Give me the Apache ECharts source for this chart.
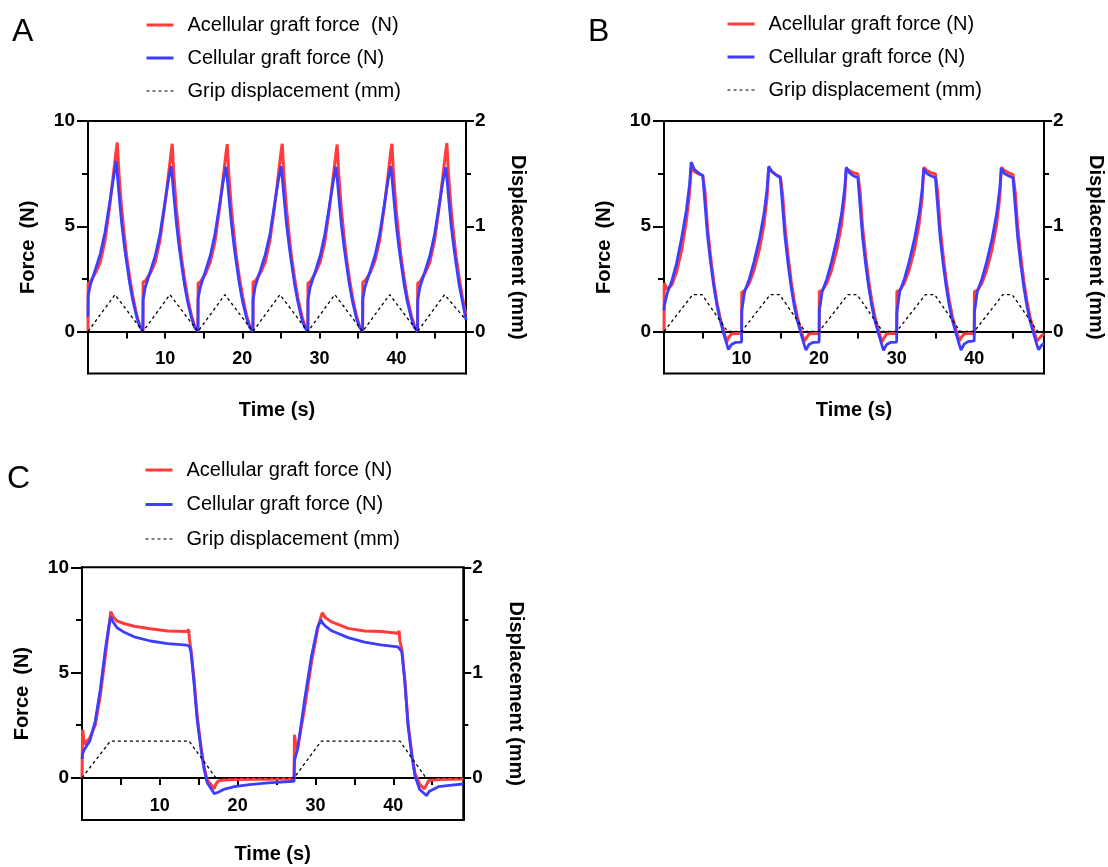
<!DOCTYPE html>
<html><head><meta charset="utf-8">
<script src="https://cdn.jsdelivr.net/npm/echarts@6/dist/echarts.min.js"></script>
<style>html,body{margin:0;padding:0;background:#fff}#chart{width:1108px;height:867px}</style>
</head><body><div id="chart"></div>
<script>
// ---------- Panel A ----------
const aTime = [
0, 0.02, 0.3, 1.0, 1.6, 2.2, 2.8, 3.3, 3.65, 3.8, 4.0, 4.35, 4.7, 5.0, 5.4, 5.8, 6.3, 6.7,
7.12, 7.14, 7.42, 8.12, 8.72, 9.32, 9.92, 10.42, 10.77, 10.92, 11.12, 11.47, 11.82, 12.12, 12.52, 12.92, 13.42, 13.82,
14.25, 14.27, 14.55, 15.25, 15.85, 16.45, 17.05, 17.55, 17.9, 18.05, 18.25, 18.6, 18.95, 19.25, 19.65, 20.05, 20.55, 20.95,
21.38, 21.4, 21.68, 22.38, 22.98, 23.58, 24.18, 24.68, 25.03, 25.18, 25.38, 25.73, 26.08, 26.38, 26.78, 27.18, 27.68, 28.08,
28.5, 28.52, 28.8, 29.5, 30.1, 30.7, 31.3, 31.8, 32.15, 32.3, 32.5, 32.85, 33.2, 33.5, 33.9, 34.3, 34.8, 35.2,
35.6, 35.62, 35.9, 36.6, 37.2, 37.8, 38.4, 38.9, 39.25, 39.4, 39.6, 39.95, 40.3, 40.6, 41.0, 41.4, 41.9, 42.3,
42.72, 42.74, 43.02, 43.72, 44.32, 44.92, 45.52, 46.02, 46.37, 46.52, 46.72, 47.07, 47.42, 47.72, 48.12, 48.52, 49.0
];
const aAcellular = [
0, 2.3, 2.35, 2.8, 3.3, 4.3, 5.9, 7.5, 8.6, 8.98, 7.6, 5.9, 4.6, 3.6, 2.6, 1.7, 0.8, 0.3,
0, 2.35, 2.4, 2.8, 3.3, 4.3, 5.9, 7.4, 8.5, 8.92, 7.5, 5.8, 4.5, 3.5, 2.5, 1.6, 0.75, 0.25,
0, 2.3, 2.35, 2.75, 3.3, 4.25, 5.85, 7.4, 8.5, 8.9, 7.5, 5.8, 4.5, 3.5, 2.5, 1.65, 0.78, 0.28,
0, 2.35, 2.4, 2.8, 3.3, 4.3, 5.9, 7.45, 8.55, 8.92, 7.55, 5.85, 4.55, 3.55, 2.55, 1.65, 0.8, 0.3,
0, 2.3, 2.35, 2.8, 3.3, 4.25, 5.85, 7.4, 8.5, 8.88, 7.5, 5.8, 4.5, 3.5, 2.5, 1.6, 0.75, 0.25,
0, 2.35, 2.4, 2.8, 3.35, 4.3, 5.9, 7.45, 8.55, 8.92, 7.5, 5.8, 4.5, 3.5, 2.5, 1.6, 0.78, 0.28,
0, 2.3, 2.35, 2.8, 3.3, 4.3, 5.9, 7.45, 8.55, 8.95, 7.55, 5.85, 4.55, 3.55, 2.55, 1.65, 0.78
];
const aCellular = [
0.7, 1.7, 2.2, 3.0, 3.7, 4.7, 6.1, 7.3, 8.1, 7.5, 6.6, 5.2, 4.1, 3.3, 2.3, 1.5, 0.7, 0.25,
0, 1.5, 2.1, 2.9, 3.6, 4.6, 6.0, 7.2, 7.85, 7.35, 6.5, 5.1, 4.0, 3.2, 2.2, 1.4, 0.65, 0.2,
0, 1.55, 2.1, 2.9, 3.6, 4.6, 6.0, 7.2, 7.82, 7.3, 6.45, 5.1, 4.0, 3.2, 2.2, 1.4, 0.65, 0.2,
0, 1.5, 2.15, 2.95, 3.65, 4.6, 6.05, 7.2, 7.85, 7.35, 6.5, 5.1, 4.05, 3.25, 2.25, 1.45, 0.65, 0.2,
0, 1.5, 2.1, 2.9, 3.6, 4.6, 6.0, 7.15, 7.82, 7.3, 6.45, 5.05, 4.0, 3.2, 2.2, 1.4, 0.62, 0.2,
0, 1.55, 2.1, 2.9, 3.6, 4.6, 6.0, 7.2, 7.85, 7.35, 6.5, 5.1, 4.0, 3.2, 2.2, 1.4, 0.65, 0.2,
0, 1.5, 2.1, 2.9, 3.6, 4.6, 6.0, 7.15, 7.8, 7.3, 6.45, 5.05, 4.0, 3.2, 2.2, 1.45, 0.55
];
const aDispTime = [0, 3.5, 7.12, 10.62, 14.25, 17.75, 21.38, 24.88, 28.5, 32.0, 35.6, 39.1, 42.72, 46.22, 49.0];
const aDisp = [0, 0.35, 0, 0.35, 0, 0.35, 0, 0.35, 0, 0.35, 0, 0.35, 0, 0.35, 0.11];

// ---------- Panel B ----------
const bTime = [
0, 0.03, 0.4, 1.0, 1.6, 2.3, 2.9, 3.3, 3.5, 3.9, 4.4, 5.0, 5.3, 5.6, 6.0, 6.4, 6.8, 7.2, 7.7, 8.1, 8.3, 8.7, 9.2,
10, 10.03, 10.4, 11.0, 11.6, 12.3, 12.9, 13.3, 13.5, 13.9, 14.4, 15.0, 15.3, 15.6, 16.0, 16.4, 16.8, 17.2, 17.7, 18.1, 18.3, 18.7, 19.2,
20, 20.03, 20.4, 21.0, 21.6, 22.3, 22.9, 23.3, 23.5, 23.9, 24.4, 25.0, 25.3, 25.6, 26.0, 26.4, 26.8, 27.2, 27.7, 28.1, 28.3, 28.7, 29.2,
30, 30.03, 30.4, 31.0, 31.6, 32.3, 32.9, 33.3, 33.5, 33.9, 34.4, 35.0, 35.3, 35.6, 36.0, 36.4, 36.8, 37.2, 37.7, 38.1, 38.3, 38.7, 39.2,
40, 40.03, 40.4, 41.0, 41.6, 42.3, 42.9, 43.3, 43.5, 43.9, 44.4, 45.0, 45.3, 45.6, 46.0, 46.4, 46.8, 47.2, 47.7, 48.1, 48.3, 48.7, 49.0
];
const bAcellular = [
0, 2.3, 2.0, 2.2, 2.8, 3.9, 5.3, 6.6, 7.75, 7.6, 7.5, 7.42, 6.6, 5.0, 3.6, 2.4, 1.45, 0.7, 0.0, -0.5, -0.3, -0.12, -0.1,
-0.1, 1.85, 1.95, 2.3, 2.9, 3.9, 5.1, 6.4, 7.75, 7.6, 7.45, 7.35, 6.5, 5.0, 3.6, 2.4, 1.45, 0.7, 0.0, -0.45, -0.35, -0.12, -0.1,
-0.1, 1.9, 1.95, 2.3, 2.9, 3.9, 5.1, 6.4, 7.7, 7.65, 7.55, 7.48, 6.6, 5.0, 3.6, 2.4, 1.45, 0.7, 0.0, -0.5, -0.35, -0.12, -0.1,
-0.1, 1.9, 1.95, 2.3, 2.9, 3.9, 5.1, 6.4, 7.8, 7.65, 7.55, 7.48, 6.6, 5.0, 3.6, 2.4, 1.45, 0.7, 0.0, -0.45, -0.3, -0.12, -0.1,
-0.1, 1.9, 1.95, 2.3, 2.9, 3.9, 5.1, 6.4, 7.8, 7.65, 7.55, 7.45, 6.6, 5.0, 3.6, 2.4, 1.45, 0.7, 0.0, -0.45, -0.48, -0.2, -0.1
];
const bCellular = [
1.0, 1.2, 1.8, 2.4, 3.2, 4.5, 5.8, 7.0, 8.05, 7.7, 7.55, 7.4, 6.0, 4.6, 3.3, 2.2, 1.3, 0.6, -0.1, -0.6, -0.86, -0.62, -0.52,
-0.5, 1.0, 1.9, 2.5, 3.3, 4.4, 5.6, 6.8, 7.85, 7.6, 7.45, 7.3, 5.9, 4.5, 3.2, 2.1, 1.2, 0.5, -0.15, -0.65, -0.88, -0.62, -0.52,
-0.5, 1.0, 1.9, 2.5, 3.3, 4.4, 5.6, 6.8, 7.8, 7.55, 7.4, 7.3, 5.9, 4.5, 3.2, 2.1, 1.2, 0.5, -0.15, -0.65, -0.9, -0.62, -0.52,
-0.5, 0.9, 1.9, 2.5, 3.3, 4.4, 5.6, 6.8, 7.75, 7.5, 7.4, 7.3, 5.9, 4.5, 3.2, 2.1, 1.2, 0.5, -0.15, -0.65, -0.88, -0.6, -0.48,
-0.45, 0.9, 1.9, 2.5, 3.3, 4.4, 5.6, 6.8, 7.75, 7.5, 7.4, 7.3, 5.9, 4.5, 3.2, 2.1, 1.2, 0.5, -0.15, -0.65, -0.87, -0.65, -0.56
];
const bDispTime = [0, 3.7, 4.9, 8.2, 10, 13.7, 14.9, 18.2, 20, 23.7, 24.9, 28.2, 30, 33.7, 34.9, 38.2, 40, 43.7, 44.9, 48.2, 49];
const bDisp = [0, 0.35, 0.35, 0, 0, 0.35, 0.35, 0, 0, 0.35, 0.35, 0, 0, 0.35, 0.35, 0, 0, 0.35, 0.35, 0, 0];

// ---------- Panel C ----------
const cTime = [
0, 0.08, 0.3, 1.0, 1.7, 2.35, 3.0, 3.4, 3.7, 4.0,
4.5, 5.5, 6.7, 8.8, 11.0, 13.5, 13.7, 13.8, 14.0, 14.4,
14.8, 15.3, 15.7, 16.1, 16.8, 17.0, 17.2, 17.5, 18.2, 19.6,
21.5, 23.9, 25.5, 27.25, 27.3, 27.5, 27.7, 28.6, 29.5, 30.3,
30.75, 30.9, 31.3, 32.0, 34.2, 36.3, 38.4, 40.6, 40.75, 40.85,
41.1, 41.5, 41.9, 42.4, 42.8, 43.4, 44.0, 44.3, 44.6, 45.8,
47.5, 49.0
];
const cAcellular = [
0, 2.3, 1.6, 1.9, 2.5, 3.9, 5.8, 7.0, 7.9, 7.65,
7.45, 7.32, 7.2, 7.08, 6.98, 6.95, 7.05, 6.6, 6.1, 4.7,
2.95, 1.45, 0.5, -0.1, -0.42, -0.52, -0.3, -0.15, -0.1, -0.08,
-0.07, -0.06, -0.05, -0.05, 2.05, 1.5, 1.4, 3.3, 5.5, 7.1,
7.7, 7.84, 7.6, 7.42, 7.1, 6.98, 6.95, 6.87, 6.98, 6.5,
6.1, 4.6, 2.6, 1.1, 0.2, -0.3, -0.52, -0.3, -0.12, -0.08,
-0.06, -0.05
];
const cCellular = [
0.9, 1.15, 1.35, 1.75, 2.7, 4.2, 6.1, 7.1, 7.65, 7.4,
7.13, 6.9, 6.7, 6.5, 6.38, 6.3, 6.28, 6.25, 6.0, 4.47,
2.75, 1.34, 0.4, -0.24, -0.63, -0.75, -0.84, -0.68, -0.55, -0.42,
-0.32, -0.24, -0.2, -0.16, 0.8, 1.1, 1.34, 3.7, 5.8, 7.2,
7.5, 7.35, 7.2, 7.0, 6.66, 6.45, 6.32, 6.22, 6.2, 6.15,
6.0, 4.5, 2.45, 1.0, 0.08, -0.55, -0.75, -0.84, -0.65, -0.42,
-0.34, -0.29
];
const cDispTime = [0, 3.65, 13.75, 17.2, 27.25, 30.75, 40.85, 44.2, 49];
const cDisp = [0, 0.35, 0.35, 0, 0, 0.35, 0.35, 0, 0];

// ---------- Ticks / labels ----------
const xTicks = [5, 10, 15, 20, 25, 30, 35, 40, 45];
const xLabels = [10, 20, 30, 40];
const forceMajor = [0, 5, 10];
const forceMinor = [2.5, 7.5];
const dispMajor = [0, 1, 2];
const dispMinor = [0.5, 1.5];
const letters = ['A', 'B', 'C'];
const acellNames = ['Acellular graft force  (N)', 'Acellular graft force (N)', 'Acellular graft force (N)'];
const cellName = 'Cellular graft force (N)';
const dispName = 'Grip displacement (mm)';

const FONT = "'Liberation Sans', Arial, Helvetica, sans-serif";
const RED = '#FF3B3B', BLUE = '#3D3DFF';

const panels = [
  {grid: {left: 88, top: 121, width: 378, height: 252.6}, legend: {left: 145, top: 14, gap: 11}, letterPos: [12, 16], xGap: 69,
   time: aTime, acell: aAcellular, cell: aCellular, dT: aDispTime, d: aDisp},
  {grid: {left: 664, top: 121, width: 380, height: 252.6}, legend: {left: 726, top: 13, gap: 11}, letterPos: [588, 16], xGap: 69,
   time: bTime, acell: bAcellular, cell: bCellular, dT: bDispTime, d: bDisp},
  {grid: {left: 82, top: 567.3, width: 381.3, height: 252.7}, legend: {left: 144, top: 459, gap: 12.5}, letterPos: [7, 463], xGap: 67,
   time: cTime, acell: cAcellular, cell: cCellular, dT: cDispTime, d: cDisp}
];

const tickStyle = {color: '#000', width: 2};
const labelStyle = {color: '#000', fontSize: 18, fontWeight: 'bold', fontFamily: FONT};
const yLabelStyle = {color: '#000', fontSize: 19, fontWeight: 'bold', fontFamily: FONT};
const nameStyle = {color: '#000', fontSize: 20, fontWeight: 'bold', fontFamily: FONT};

const option = {animation: false, backgroundColor: '#fff', grid: [], xAxis: [], yAxis: [], series: [], legend: [], graphic: []};

panels.forEach((p, i) => {
  const zeroOffset = -(p.grid.height * 2 / 12);
  option.grid.push(Object.assign({show: true, borderColor: '#000', borderWidth: 2, backgroundColor: 'transparent'}, p.grid));
  option.xAxis.push({
    type: 'value', gridIndex: i, min: 0, max: 49, position: 'bottom', offset: zeroOffset,
    axisLine: {show: true, onZero: false, lineStyle: {color: '#000', width: 2}},
    axisTick: {show: true, inside: false, length: 7, customValues: xTicks, lineStyle: tickStyle},
    axisLabel: Object.assign({show: true, customValues: xLabels, margin: 19}, labelStyle),
    splitLine: {show: false},
    name: 'Time (s)', nameLocation: 'middle', nameGap: p.xGap, nameTextStyle: nameStyle
  });
  const yb = {type: 'value', gridIndex: i, splitLine: {show: false}};
  option.yAxis.push(Object.assign({}, yb, {
    position: 'left', min: -2, max: 10,
    axisLine: {show: true, onZero: false, lineStyle: {color: '#000', width: 2}},
    axisTick: {show: true, length: 11, customValues: forceMajor, lineStyle: tickStyle},
    axisLabel: Object.assign({show: true, customValues: forceMajor, margin: 13}, yLabelStyle),
    name: 'Force  (N)', nameLocation: 'middle', nameRotate: 90, nameGap: 50, nameTextStyle: nameStyle
  }));
  option.yAxis.push(Object.assign({}, yb, {
    position: 'left', min: -2, max: 10,
    axisLine: {show: false, onZero: false},
    axisTick: {show: true, length: 6, customValues: forceMinor, lineStyle: tickStyle},
    axisLabel: {show: false}
  }));
  option.yAxis.push(Object.assign({}, yb, {
    position: 'right', min: -0.4, max: 2,
    axisLine: {show: true, onZero: false, lineStyle: {color: '#000', width: 2}},
    axisTick: {show: true, length: 8, customValues: dispMajor, lineStyle: tickStyle},
    axisLabel: Object.assign({show: true, customValues: dispMajor, margin: 9}, yLabelStyle),
    name: 'Displacement (mm)', nameLocation: 'middle', nameRotate: -90, nameGap: 42, nameTextStyle: nameStyle
  }));
  option.yAxis.push(Object.assign({}, yb, {
    position: 'right', min: -0.4, max: 2,
    axisLine: {show: false, onZero: false},
    axisTick: {show: true, length: 5, customValues: dispMinor, lineStyle: tickStyle},
    axisLabel: {show: false}
  }));

  option.series.push({
    name: acellNames[i], type: 'line', xAxisIndex: i, yAxisIndex: 4 * i, symbol: 'none', showSymbol: false,
    lineStyle: {color: RED, width: 3}, itemStyle: {color: RED}, z: 3,
    data: p.time.map((t, k) => [t, p.acell[k]])
  });
  option.series.push({
    name: cellName, type: 'line', xAxisIndex: i, yAxisIndex: 4 * i, symbol: 'none', showSymbol: false,
    lineStyle: {color: BLUE, width: 2.8}, itemStyle: {color: BLUE}, z: 4,
    data: p.time.map((t, k) => [t, p.cell[k]])
  });
  option.series.push({
    name: dispName, type: 'line', xAxisIndex: i, yAxisIndex: 4 * i + 2, symbol: 'none', showSymbol: false,
    lineStyle: {color: '#000', width: 1.3, type: [3, 3]}, itemStyle: {color: '#000'}, z: 5,
    data: p.dT.map((t, k) => [t, p.d[k]])
  });

  const hideSym = {opacity: 0, color: 'transparent', borderColor: 'transparent', borderWidth: 0};
  option.legend.push({
    orient: 'vertical', left: p.legend.left, top: p.legend.top, padding: 0,
    itemWidth: 27, itemHeight: 14, itemGap: p.legend.gap, selectedMode: false,
    data: [
      {name: acellNames[i], lineStyle: {width: 3}, itemStyle: hideSym},
      {name: cellName, lineStyle: {width: 3}, itemStyle: hideSym},
      {name: dispName, lineStyle: {width: 1, color: '#000'}, itemStyle: hideSym}
    ],
    textStyle: {color: '#000', fontSize: 20, fontFamily: FONT, lineHeight: 22, padding: [0, 0, 0, 9]}
  });

  option.graphic.push({
    type: 'text', left: p.letterPos[0], top: p.letterPos[1],
    style: {text: letters[i], fill: '#000', font: '32px ' + FONT}
  });
});

const chart = echarts.init(document.getElementById('chart'), null, {renderer: 'canvas'});
chart.setOption(option);
</script>
</body></html>
